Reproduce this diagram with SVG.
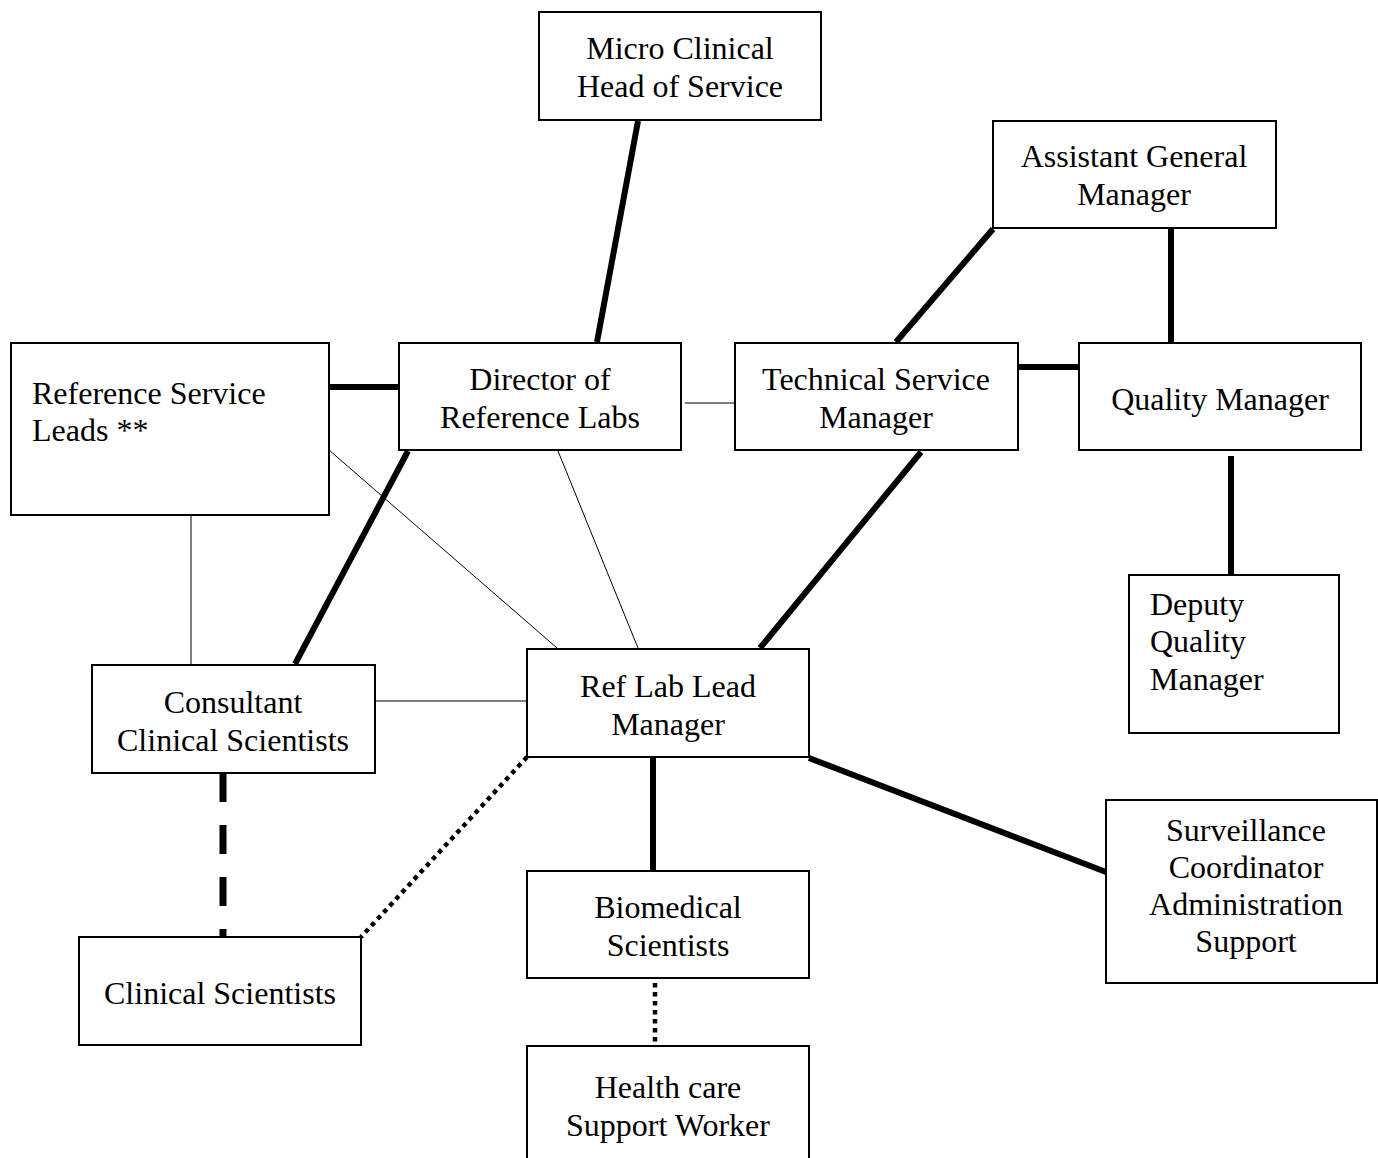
<svg xmlns="http://www.w3.org/2000/svg" width="1378" height="1158" viewBox="0 0 1378 1158">
<style>
.box{fill:#fff;stroke:#000;stroke-width:2}
text{font-family:"Liberation Serif","Times New Roman",serif;font-size:32px;fill:#000}
.c{text-anchor:middle}
.thick{stroke:#000;stroke-width:6;fill:none}
.thin{stroke:#000;stroke-width:1;fill:none}
.dash{stroke:#000;stroke-width:7;stroke-dasharray:29 23;fill:none}
.dot{stroke:#000;stroke-width:4.5;stroke-dasharray:4.5 4.5;fill:none}
</style>
<rect width="1378" height="1158" fill="#fff"/>
<g id="connectors">
<line class="thick" x1="638" y1="121" x2="597" y2="342"/>
<line class="thick" x1="993" y1="229" x2="896" y2="342"/>
<line class="thick" x1="1171" y1="228" x2="1171" y2="342"/>
<line class="thick" x1="1018" y1="367" x2="1079" y2="367"/>
<line class="thick" x1="329" y1="387" x2="399" y2="387"/>
<line class="thin" x1="685" y1="403" x2="735" y2="403"/>
<line class="thick" x1="1231" y1="456" x2="1231" y2="575"/>
<line class="thick" x1="408" y1="451" x2="295" y2="664"/>
<line class="thin" x1="329" y1="450" x2="557" y2="648"/>
<line class="thin" x1="558" y1="451" x2="638" y2="648"/>
<line class="thick" x1="921" y1="452" x2="760" y2="648"/>
<line class="thin" x1="191" y1="515" x2="191" y2="665"/>
<line class="thin" x1="375" y1="701" x2="527" y2="701"/>
<line class="dash" x1="223" y1="773" x2="223" y2="937"/>
<line class="dot" x1="527" y1="757" x2="361" y2="937"/>
<line class="thick" x1="653" y1="757" x2="653" y2="871"/>
<line class="dot" x1="655" y1="983" x2="655" y2="1044"/>
<line class="thick" x1="809" y1="758" x2="1106" y2="872"/>
</g>
<g id="micro"><rect class="box" x="539" y="12" width="282" height="108"/><text class="c" x="680" y="59">Micro Clinical</text><text class="c" x="680" y="97">Head of Service</text></g>
<g id="agm"><rect class="box" x="993" y="121" width="283" height="107"/><text class="c" x="1134" y="167">Assistant General</text><text class="c" x="1134" y="205">Manager</text></g>
<g id="rsl"><rect class="box" x="11" y="343" width="318" height="172"/><text x="32" y="404">Reference Service</text><text x="32" y="441">Leads **</text></g>
<g id="director"><rect class="box" x="399" y="343" width="282" height="107"/><text class="c" x="540" y="390">Director of</text><text class="c" x="540" y="428">Reference Labs</text></g>
<g id="tsm"><rect class="box" x="735" y="343" width="283" height="107"/><text class="c" x="876" y="390">Technical Service</text><text class="c" x="876" y="428">Manager</text></g>
<g id="qm"><rect class="box" x="1079" y="343" width="282" height="107"/><text class="c" x="1220" y="410">Quality Manager</text></g>
<g id="dqm"><rect class="box" x="1129" y="575" width="210" height="158"/><text x="1150" y="615">Deputy</text><text x="1150" y="652">Quality</text><text x="1150" y="690">Manager</text></g>
<g id="consultant"><rect class="box" x="92" y="665" width="283" height="108"/><text class="c" x="233" y="713">Consultant</text><text class="c" x="233" y="751">Clinical Scientists</text></g>
<g id="reflab"><rect class="box" x="527" y="649" width="282" height="108"/><text class="c" x="668" y="697">Ref Lab Lead</text><text class="c" x="668" y="735">Manager</text></g>
<g id="surveillance"><rect class="box" x="1106" y="800" width="271" height="183"/><text class="c" x="1246" y="841">Surveillance</text><text class="c" x="1246" y="878">Coordinator</text><text class="c" x="1246" y="915">Administration</text><text class="c" x="1246" y="952">Support</text></g>
<g id="clinical"><rect class="box" x="79" y="937" width="282" height="108"/><text class="c" x="220" y="1004">Clinical Scientists</text></g>
<g id="biomedical"><rect class="box" x="527" y="871" width="282" height="107"/><text class="c" x="668" y="918">Biomedical</text><text class="c" x="668" y="956">Scientists</text></g>
<g id="hcsw"><rect class="box" x="527" y="1046" width="282" height="120"/><text class="c" x="668" y="1098">Health care</text><text class="c" x="668" y="1136">Support Worker</text></g>
</svg>
